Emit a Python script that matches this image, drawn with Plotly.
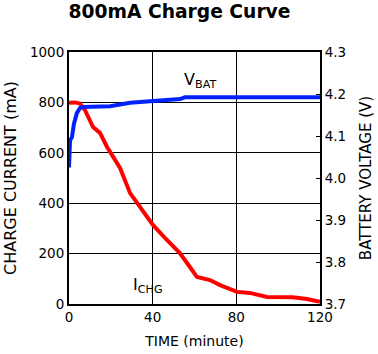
import plotly.graph_objects as go

# Battery voltage (V) vs time (minute)
vbat_t = [0, 0.5, 1.4, 2.4, 3.8, 5.3, 6.7, 19.6, 29.2, 40.2, 53.1, 55.4, 120]
vbat_v = [4.025, 4.09, 4.097, 4.13, 4.155, 4.167, 4.169, 4.171, 4.179, 4.184, 4.188, 4.192, 4.192]

# Charge current (mA) vs time (minute)
ichg_t = [0, 3, 5.3, 7.6, 11.5, 14.8, 18.2, 21, 23, 24.4, 29.2, 33.9, 40.2, 46.8, 53, 57.8,
          61.2, 67.4, 72.2, 80.3, 86.5, 94.6, 107, 113.8, 120]
ichg_i = [799, 800, 795, 770, 702, 679, 623, 583, 560, 540, 440, 385, 313, 254, 202, 147,
          107, 95, 75, 48, 44, 28, 27, 20, 9]

x_ticks = [0, 40, 80, 120]
y_ticks = [0, 200, 400, 600, 800, 1000]
y2_ticks = [3.7, 3.8, 3.9, 4.0, 4.1, 4.2, 4.3]
y2_labels = ["3.7", "3.8", "3.9", "4.0", "4.1", "4.2", "4.3"]

font = "DejaVu Sans, sans-serif"

fig = go.Figure()
fig.add_trace(go.Scatter(x=ichg_t, y=ichg_i, mode="lines",
                         line=dict(color="#ff0000", width=4), yaxis="y"))
fig.add_trace(go.Scatter(x=vbat_t, y=vbat_v, mode="lines",
                         line=dict(color="#0022ff", width=4), yaxis="y2"))

fig.update_layout(
    width=378, height=354,
    margin=dict(l=69, r=58, t=52, b=50, autoexpand=False),
    paper_bgcolor="white", plot_bgcolor="white",
    showlegend=False,
    font=dict(family=font, size=13.5, color="black"),
    title=dict(text="<b>800mA Charge Curve</b>", x=179.5 / 378, xanchor="center",
               y=1 - 11 / 354, yanchor="middle",
               font=dict(family=font, size=18.7, color="black")),
    xaxis=dict(range=[0, 120], tickvals=x_ticks, ticktext=[str(v) for v in x_ticks],
               showgrid=True, gridcolor="black", gridwidth=1,
               showline=True, linecolor="black", linewidth=2, mirror=True,
               ticks="", zeroline=False, automargin=False,
               tickfont=dict(size=13.5),
               title=dict(text="TIME (minute)", standoff=12, font=dict(size=14))),
    yaxis=dict(range=[0, 1000], tickvals=y_ticks,
               showgrid=True, gridcolor="black", gridwidth=1,
               showline=True, linecolor="black", linewidth=2, mirror=True,
               ticks="", zeroline=False, automargin=False,
               tickfont=dict(size=13.5),
               title=dict(text="CHARGE CURRENT (mA)", standoff=9, font=dict(size=16))),
    yaxis2=dict(range=[3.7, 4.3], tickvals=y2_ticks, ticktext=y2_labels,
                overlaying="y", side="right", showgrid=False, zeroline=False,
                showline=True, linecolor="black", linewidth=2, automargin=False,
                ticks="inside", ticklen=4, tickcolor="black", tickwidth=1,
                tickfont=dict(size=13.5),
                title=dict(text="BATTERY VOLTAGE (V)", standoff=15, font=dict(size=15))),
    annotations=[
        dict(x=54, y=4.233, xref="x", yref="y2", text="V<sub>BAT</sub>", showarrow=False,
             xanchor="left", yanchor="middle", font=dict(size=16)),
        dict(x=29.5, y=3.745, xref="x", yref="y2", text="I<sub>CHG</sub>", showarrow=False,
             xanchor="left", yanchor="middle", font=dict(size=16)),
    ],
)

fig.write_html("out.html")
